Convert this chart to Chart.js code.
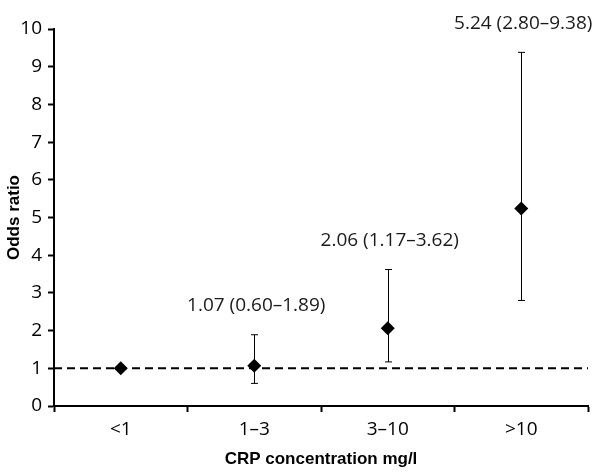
<!DOCTYPE html>
<html>
<head>
<meta charset="utf-8">
<script src="https://cdn.jsdelivr.net/npm/chart.js@4"></script>
<style>
  body { margin: 0; background: #fff; }
</style>
</head>
<body>
<canvas id="chart" width="600" height="472"></canvas>
<script>
const categories = ['<1', '1–3', '3–10', '>10'];
const oddsRatios = [1, 1.07, 2.06, 5.24];
const ciLower = [null, 0.60, 1.17, 2.80];
const ciUpper = [null, 1.89, 3.62, 9.38];
const refLine = 1;

const fmt = v => v.toFixed(2);

// dashed reference line, CI whiskers and the labels above them
const ciPlugin = {
  id: 'ciPlugin',
  beforeDatasetsDraw(chart) {
    const { ctx, chartArea, scales: { x, y } } = chart;
    ctx.save();
    const yRef = y.getPixelForValue(refLine);
    ctx.strokeStyle = '#000';
    ctx.lineWidth = 2;
    ctx.setLineDash([8, 5]);
    ctx.beginPath();
    ctx.moveTo(chartArea.left, yRef);
    ctx.lineTo(chartArea.right, yRef);
    ctx.stroke();
    ctx.setLineDash([]);
    ctx.lineWidth = 1;
    categories.forEach((c, i) => {
      if (ciLower[i] == null) return;
      const px = Math.round(x.getPixelForValue(i)) + 0.5;
      const lo = y.getPixelForValue(ciLower[i]);
      const hi = y.getPixelForValue(ciUpper[i]);
      ctx.beginPath();
      ctx.moveTo(px, lo); ctx.lineTo(px, hi);
      ctx.moveTo(px - 3.5, lo); ctx.lineTo(px + 3.5, lo);
      ctx.moveTo(px - 3.5, hi); ctx.lineTo(px + 3.5, hi);
      ctx.stroke();
    });
    ctx.restore();
  },
  afterDatasetsDraw(chart) {
    const { ctx, scales: { x, y } } = chart;
    ctx.save();
    ctx.fillStyle = '#1a1a1a';
    ctx.font = '19px "Open Sans"';
    ctx.textAlign = 'center';
    ctx.textBaseline = 'middle';
    categories.forEach((c, i) => {
      if (ciUpper[i] == null) return;
      const px = x.getPixelForValue(i);
      const hi = y.getPixelForValue(ciUpper[i]);
      ctx.fillText(fmt(oddsRatios[i]) + ' (' + fmt(ciLower[i]) + '–' + fmt(ciUpper[i]) + ')', px + 2, hi - 29);
    });
    ctx.restore();
  }
};

new Chart(document.getElementById('chart'), {
  type: 'line',
  data: {
    labels: categories,
    datasets: [{
      label: 'Odds ratio',
      data: oddsRatios,
      showLine: false,
      pointStyle: 'rectRot',
      pointRadius: 7,
      pointHoverRadius: 7,
      backgroundColor: '#000',
      borderColor: '#000',
      pointBorderWidth: 0
    }]
  },
  options: {
    responsive: false,
    animation: false,
    layout: { padding: { top: 29, right: 12, left: 0, bottom: 0 } },
    plugins: { legend: { display: false }, tooltip: { enabled: false } },
    scales: {
      x: {
        type: 'category',
        offset: true,
        grid: { offset: true, drawOnChartArea: false, drawTicks: true, tickLength: 6, tickWidth: 2, tickColor: '#000' },
        border: { color: '#000', width: 2 },
        ticks: { color: '#000', font: { family: 'Open Sans', size: 19 }, padding: 6 },
        title: { display: true, text: 'CRP concentration mg/l', color: '#000', font: { family: 'Liberation Sans', size: 17, weight: 'bold' }, padding: 2 },
        afterFit(scale) { scale.height = 66; }
      },
      y: {
        min: 0,
        max: 10,
        ticks: { stepSize: 1, color: '#000', font: { family: 'Open Sans', size: 19 }, padding: 6 },
        grid: { drawOnChartArea: false, drawTicks: true, tickLength: 6, tickWidth: 2, tickColor: '#000' },
        border: { color: '#000', width: 2 },
        title: { display: true, text: 'Odds ratio', color: '#000', font: { family: 'Liberation Sans', size: 17, weight: 'bold' }, padding: 4 },
        afterFit(scale) { scale.width = 54; }
      }
    }
  },
  plugins: [ciPlugin]
});
</script>
</body>
</html>
